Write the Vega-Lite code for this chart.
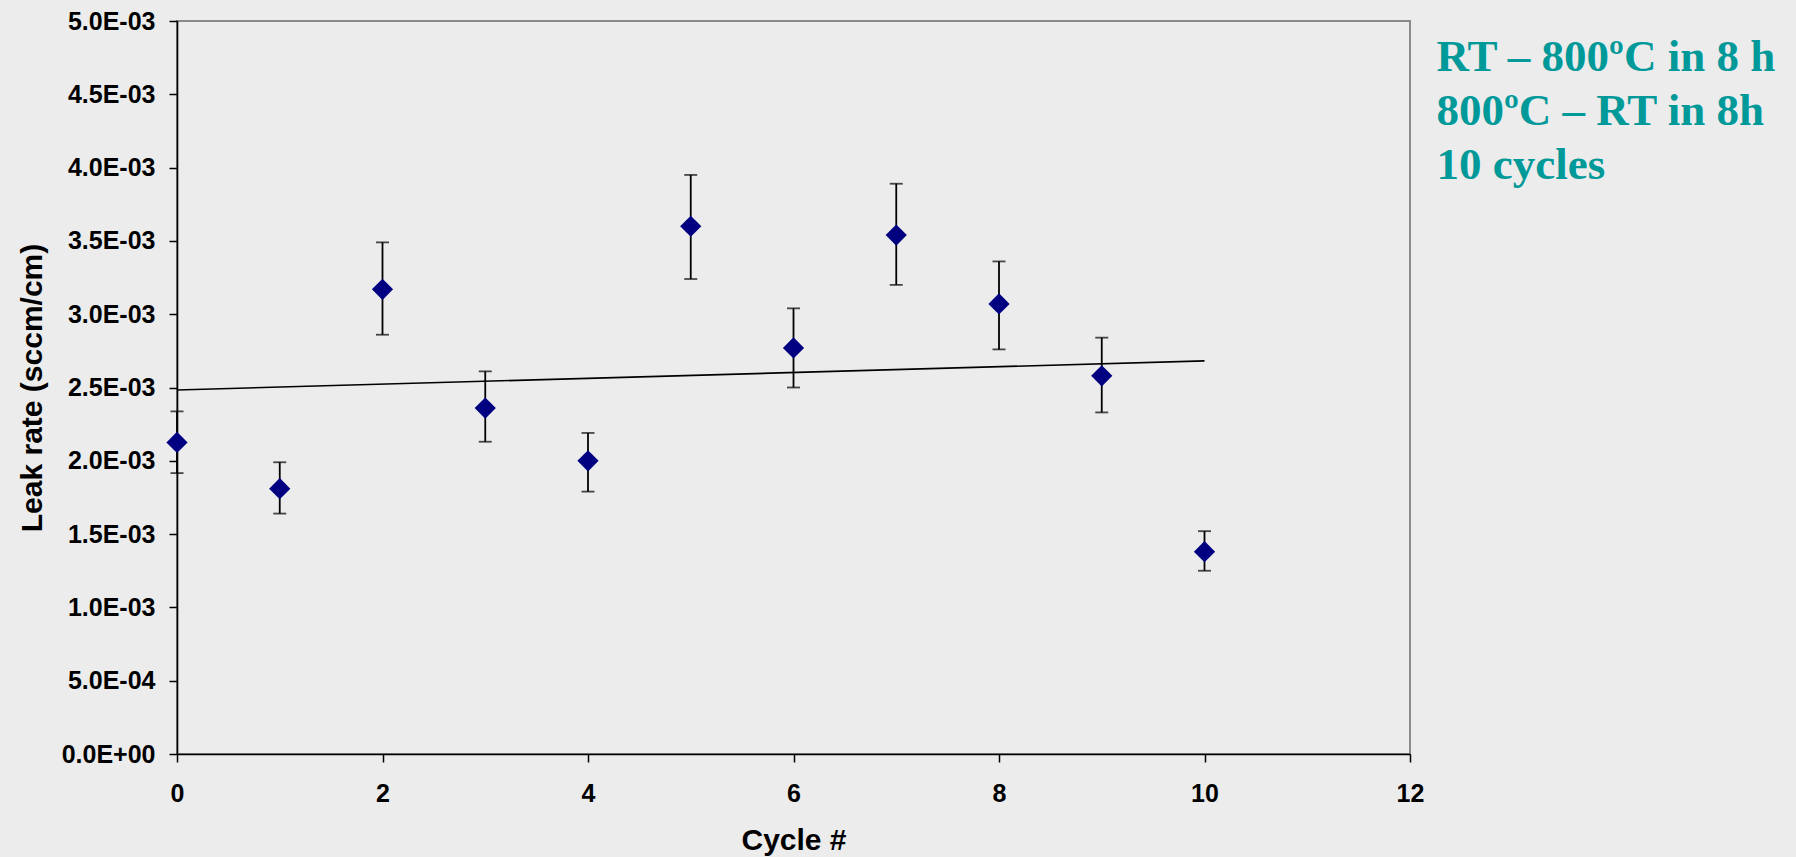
{
  "$schema": "https://vega.github.io/schema/vega-lite/v6.json",
  "width": 1233,
  "height": 733,
  "autosize": {"type": "none"},
  "padding": {"left": 177, "top": 21, "right": 386, "bottom": 103},
  "background": "#ECECEC",
  "title": {
    "text": ["RT – 800ºC in 8 h", "800ºC – RT in 8h", "10 cycles"],
    "orient": "right",
    "anchor": "start",
    "angle": 0,
    "align": "left",
    "baseline": "top",
    "offset": -327,
    "dy": 26,
    "font": "Liberation Serif",
    "fontSize": 45,
    "fontWeight": "bold",
    "color": "#009999",
    "lineHeight": 54
  },
  "config": {
    "view": {"stroke": "#8a8a8a", "strokeWidth": 2, "fill": "#ECECEC"},
    "axis": {
      "labelFont": "Liberation Sans",
      "labelFontWeight": "bold",
      "labelFontSize": 25,
      "labelColor": "black",
      "titleFont": "Liberation Sans",
      "titleFontWeight": "bold",
      "titleFontSize": 30,
      "titleColor": "black",
      "domainColor": "black",
      "domainWidth": 1.6,
      "tickColor": "black",
      "tickWidth": 1.5,
      "tickSize": 8,
      "grid": false,
      "labelFlush": false
    }
  },
  "data": {
    "values": [
      {"cycle": 0, "rate": 0.002125, "lo": 0.001916, "hi": 0.002337},
      {"cycle": 1, "rate": 0.00181, "lo": 0.00164, "hi": 0.00199},
      {"cycle": 2, "rate": 0.00317, "lo": 0.00286, "hi": 0.00349},
      {"cycle": 3, "rate": 0.00236, "lo": 0.00213, "hi": 0.00261},
      {"cycle": 4, "rate": 0.002, "lo": 0.00179, "hi": 0.00219},
      {"cycle": 5, "rate": 0.0036, "lo": 0.00324, "hi": 0.00395},
      {"cycle": 6, "rate": 0.00277, "lo": 0.0025, "hi": 0.00304},
      {"cycle": 7, "rate": 0.00354, "lo": 0.0032, "hi": 0.00389},
      {"cycle": 8, "rate": 0.00307, "lo": 0.00276, "hi": 0.00336},
      {"cycle": 9, "rate": 0.00258, "lo": 0.00233, "hi": 0.00284},
      {"cycle": 10, "rate": 0.00138, "lo": 0.00125, "hi": 0.00152}
    ]
  },
  "layer": [
    {
      "transform": [
        {"regression": "rate", "on": "cycle", "method": "linear", "extent": [0, 10]}
      ],
      "mark": {"type": "line", "color": "black", "strokeWidth": 1.6, "clip": false},
      "encoding": {
        "x": {
          "field": "cycle", "type": "quantitative", "title": "Cycle #",
          "scale": {"domain": [0, 12], "nice": false},
          "axis": {"values": [0, 2, 4, 6, 8, 10, 12], "format": "d", "labelPadding": 19, "titlePadding": 19}
        },
        "y": {
          "field": "rate", "type": "quantitative", "title": "Leak rate (sccm/cm)",
          "scale": {"domain": [0, 0.005], "nice": false},
          "axis": {
            "values": [0, 0.0005, 0.001, 0.0015, 0.002, 0.0025, 0.003, 0.0035, 0.004, 0.0045, 0.005],
            "labelExpr": "replace(replace(format(datum.value, '.1e'), 'e-', 'E-0'), 'e+', 'E+0')",
            "labelPadding": 14,
            "titlePadding": 14
          }
        }
      }
    },
    {
      "mark": {
        "type": "errorbar",
        "ticks": {"size": 13, "thickness": 1.8, "color": "black"},
        "rule": {"strokeWidth": 1.8, "color": "black"}
      },
      "encoding": {
        "x": {"field": "cycle", "type": "quantitative", "title": "Cycle #"},
        "y": {"field": "lo", "type": "quantitative", "title": "Leak rate (sccm/cm)"},
        "y2": {"field": "hi"}
      }
    },
    {
      "mark": {"type": "point", "shape": "diamond", "filled": true, "size": 450, "color": "#000080", "opacity": 1, "strokeWidth": 0, "clip": false},
      "encoding": {
        "x": {"field": "cycle", "type": "quantitative", "title": "Cycle #"},
        "y": {"field": "rate", "type": "quantitative", "title": "Leak rate (sccm/cm)"}
      }
    }
  ]
}
